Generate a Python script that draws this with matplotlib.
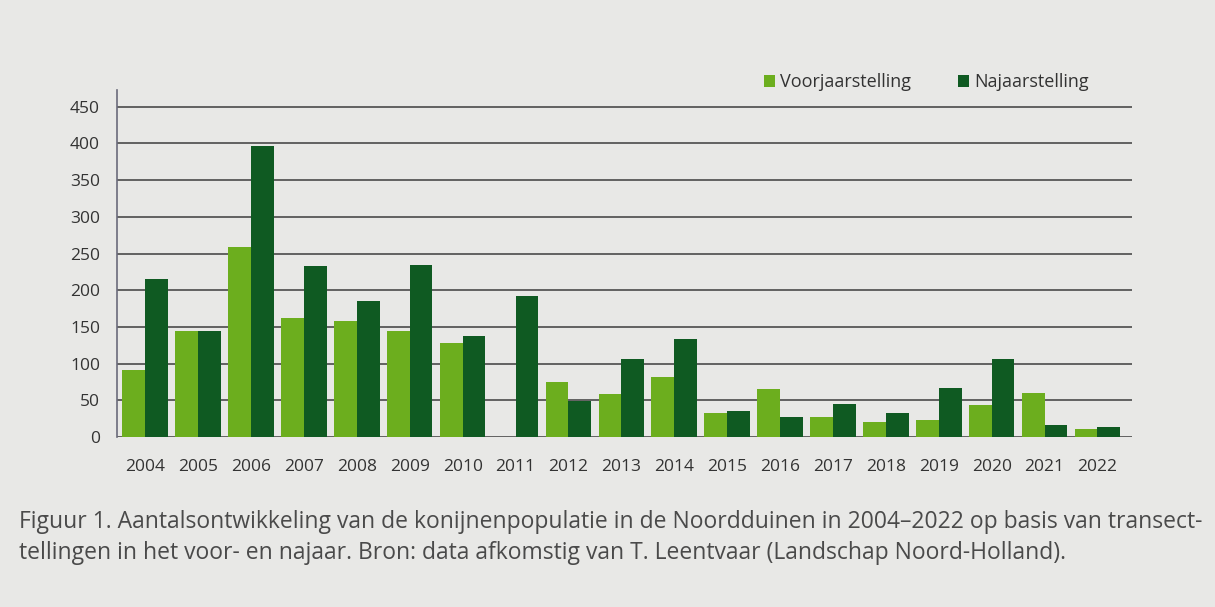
import numpy as np
import matplotlib
matplotlib.use("Agg")
import matplotlib.pyplot as plt

jaren = [str(j) for j in range(2004, 2023)]
voorjaar = [92, 145, 259, 162, 158, 145, 128, 0, 75, 59, 82, 33, 65, 27, 21, 23, 43, 60, 11]
najaar = [215, 144, 397, 233, 186, 234, 138, 192, 49, 106, 134, 35, 27, 45, 33, 67, 106, 17, 14]
yticks = list(range(0, 451, 50))

plt.rcParams['font.family'] = ['Open Sans', 'DejaVu Sans']

licht = '#6cae1e'
donker = '#0f5a22'
papier = '#e8e8e6'

fig = plt.figure(figsize=(12.15, 6.07), dpi=100, facecolor=papier)
ax = fig.add_axes([0.096, 0.28, 0.836, 0.572])
ax.set_facecolor(papier)

x = np.arange(len(jaren))
w = 0.43
ax.bar(x - w / 2, voorjaar, w, color=licht, label='Voorjaarstelling', zorder=3)
ax.bar(x + w / 2, najaar, w, color=donker, label='Najaarstelling', zorder=3)

ax.set_xlim(-0.54, len(jaren) - 1 + 0.66)
ax.set_ylim(0, 473)
ax.set_yticks(yticks)
ax.set_xticks(x)
ax.set_xticklabels(jaren)
ax.grid(axis='y', color='#4a4a4a', linewidth=1.2, zorder=1)
ax.tick_params(length=0, labelsize=12.5, colors='#333333')
ax.tick_params(axis='x', pad=16)
ax.tick_params(axis='y', pad=12)
for s in ['top', 'right', 'bottom']:
    ax.spines[s].set_visible(False)
ax.spines['left'].set_color('#6a6a7a')
ax.spines['left'].set_linewidth(1.2)

ax.legend(loc='lower left', bbox_to_anchor=(0.63, 0.975), ncol=2, frameon=False,
          fontsize=13, handlelength=0.6, handleheight=0.6, handletextpad=0.3,
          columnspacing=2.6, labelcolor='#333333', borderaxespad=0)

fig.text(0.016, 0.114,
         'Figuur 1. Aantalsontwikkeling van de konijnenpopulatie in de Noordduinen in 2004–2022 op basis van transect-\n'
         'tellingen in het voor- en najaar. Bron: data afkomstig van T. Leentvaar (Landschap Noord-Holland).',
         fontsize=16.5, color='#4a4a4a', linespacing=1.38, va='center')

fig.savefig('out.png', dpi=100, facecolor=papier)
